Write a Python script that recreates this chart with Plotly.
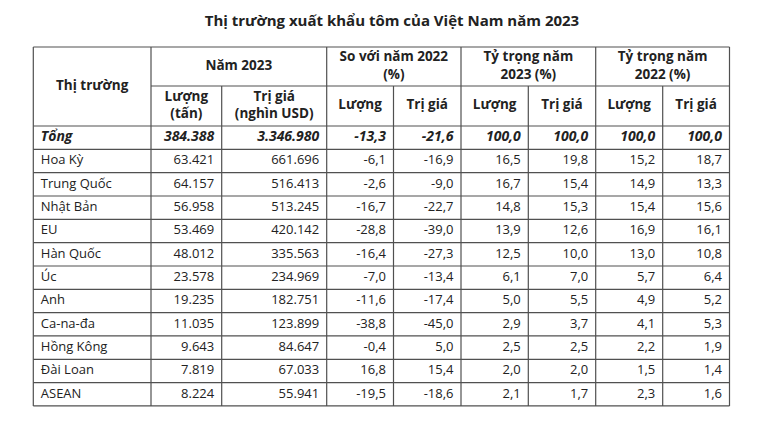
import plotly.graph_objects as go

# ---------------- data ----------------
title = "Thị trường xuất khẩu tôm của Việt Nam năm 2023"
markets = ["Tổng", "Hoa Kỳ", "Trung Quốc", "Nhật Bản", "EU", "Hàn Quốc", "Úc",
           "Anh", "Ca-na-đa", "Hồng Kông", "Đài Loan", "ASEAN"]
vol_2023 = [384388, 63421, 64157, 56958, 53469, 48012, 23578, 19235, 11035, 9643, 7819, 8224]
val_2023 = [3346980, 661696, 516413, 513245, 420142, 335563, 234969, 182751, 123899, 84647, 67033, 55941]
chg_vol = [-13.3, -6.1, -2.6, -16.7, -28.8, -16.4, -7.0, -11.6, -38.8, -0.4, 16.8, -19.5]
chg_val = [-21.6, -16.9, -9.0, -22.7, -39.0, -27.3, -13.4, -17.4, -45.0, 5.0, 15.4, -18.6]
share23_vol = [100.0, 16.5, 16.7, 14.8, 13.9, 12.5, 6.1, 5.0, 2.9, 2.5, 2.0, 2.1]
share23_val = [100.0, 19.8, 15.4, 15.3, 12.6, 10.0, 7.0, 5.5, 3.7, 2.5, 2.0, 1.7]
share22_vol = [100.0, 15.2, 14.9, 15.4, 16.9, 13.0, 5.7, 4.9, 4.1, 2.2, 1.5, 2.3]
share22_val = [100.0, 18.7, 13.3, 15.6, 16.1, 10.8, 6.4, 5.2, 5.3, 1.9, 1.4, 1.6]

first_header = "Thị trường"
group_headers = ["Năm 2023", "So với năm 2022<br>(%)", "Tỷ trọng năm<br>2023 (%)", "Tỷ trọng năm<br>2022 (%)"]
sub_headers = ["Lượng<br>(tấn)", "Trị giá<br>(nghìn USD)", "Lượng", "Trị giá",
               "Lượng", "Trị giá", "Lượng", "Trị giá"]

# ---------------- layout geometry ----------------
W, H = 763, 429
OFF = 8  # page body margin
col_edges = [33.3, 151.0, 221.7, 326.7, 393.5, 461.0, 528.3, 595.7, 662.7, 729.5]
top_y = 47.0
head1_bottom = 86.0
head2_bottom = 126.0
row_h = 23.33
pad = 7.5
FONT = "Open Sans"
TXT = "#222222"
LINE = "#505050"
LW = 1.2


def fmt_int(v):
    return f"{v:,}".replace(",", ".")


def fmt_dec(v):
    return f"{v:.1f}".replace(".", ",")


value_cols = [
    [fmt_int(v) for v in vol_2023],
    [fmt_int(v) for v in val_2023],
    [fmt_dec(v) for v in chg_vol],
    [fmt_dec(v) for v in chg_val],
    [fmt_dec(v) for v in share23_vol],
    [fmt_dec(v) for v in share23_val],
    [fmt_dec(v) for v in share22_vol],
    [fmt_dec(v) for v in share22_val],
]

n_rows = len(markets)
row_edges = [head2_bottom + i * row_h for i in range(n_rows + 1)]
row_mid = [(row_edges[i] + row_edges[i + 1]) / 2 for i in range(n_rows)]
sizes = [14 if i == 0 else 13 for i in range(n_rows)]

fig = go.Figure()

# market names
names = [f"<b><i>{n}</i></b>" if i == 0 else n for i, n in enumerate(markets)]
fig.add_trace(go.Scatter(
    x=[col_edges[0] + pad] * n_rows, y=row_mid, mode="text",
    text=names, textposition="middle right",
    textfont=dict(family=FONT, size=sizes, color=TXT),
    hoverinfo="skip", showlegend=False))

# numeric columns (right-aligned)
for c, vals in enumerate(value_cols):
    xr = col_edges[c + 2] - pad
    texts = [f"<b><i>{t}</i></b>" if i == 0 else t for i, t in enumerate(vals)]
    fig.add_trace(go.Scatter(
        x=[xr] * n_rows, y=row_mid, mode="text", text=texts,
        textposition="middle left",
        textfont=dict(family=FONT, size=sizes, color=TXT),
        hoverinfo="skip", showlegend=False))

# headers
hx = [(col_edges[0] + col_edges[1]) / 2]
hy = [(top_y + head2_bottom) / 2]
ht = [f"<b>{first_header}</b>"]
for g, gh in enumerate(group_headers):
    hx.append((col_edges[1 + 2 * g] + col_edges[3 + 2 * g]) / 2)
    hy.append((top_y + head1_bottom) / 2)
    ht.append(f"<b>{gh}</b>")
for s, sh in enumerate(sub_headers):
    hx.append((col_edges[1 + s] + col_edges[2 + s]) / 2)
    hy.append((head1_bottom + head2_bottom) / 2)
    ht.append(f"<b>{sh}</b>")
fig.add_trace(go.Scatter(
    x=hx, y=hy, mode="text", text=ht, textposition="middle center",
    textfont=dict(family=FONT, size=13.5, color=TXT),
    hoverinfo="skip", showlegend=False))

# grid lines
shapes = []
def hline(x0, x1, y):
    shapes.append(dict(type="line", xref="x", yref="y", x0=x0, x1=x1, y0=y, y1=y,
                       line=dict(color=LINE, width=LW)))
def vline(x, y0, y1):
    shapes.append(dict(type="line", xref="x", yref="y", x0=x, x1=x, y0=y0, y1=y1,
                       line=dict(color=LINE, width=LW)))

bottom = row_edges[-1]
hline(col_edges[0], col_edges[-1], top_y)
hline(col_edges[1], col_edges[-1], head1_bottom)
for y in row_edges:
    hline(col_edges[0], col_edges[-1], y)
for k, x in enumerate(col_edges):
    if k in (0, 1, 3, 5, 7, 9):
        vline(x, top_y, bottom)
    else:
        vline(x, head1_bottom, bottom)

title_cx, title_cy = 392.0, 21.0
fig.update_layout(
    width=W, height=H,
    margin=dict(l=0, r=0, t=0, b=0),
    paper_bgcolor="white", plot_bgcolor="white",
    shapes=shapes,
    xaxis=dict(range=[OFF, W + OFF], visible=False, fixedrange=True),
    yaxis=dict(range=[H + OFF, OFF], visible=False, fixedrange=True),
    title=dict(text=f"<b>{title}</b>",
               x=(title_cx - OFF) / W, xanchor="center",
               y=1 - (title_cy - OFF) / H, yanchor="middle",
               font=dict(family=FONT, size=15, color=TXT)),
)

fig.write_html("out.html")
